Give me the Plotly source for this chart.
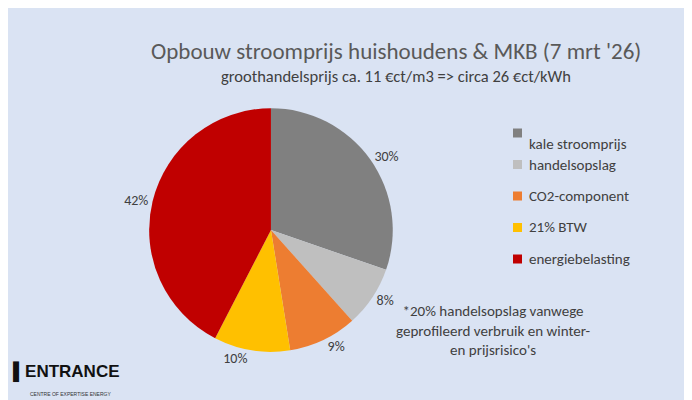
import plotly.graph_objects as go

labels = ["kale stroomprijs", "handelsopslag", "CO2-component", "21% BTW", "energiebelasting"]
values = [30, 8, 9, 10, 42]
colors = ["#808080", "#BFBFBF", "#ED7D31", "#FFC000", "#C00000"]
text_labels = ["30%", "8%", "9%", "10%", "42%"]

strip_x0 = [110, 182, 323, 465, 606]
strip_x1 = [162, 283, 424, 566, 692]
strip_colors = ["#DAE3F3", "#FFC000", "#2F4A7F", "#9E480E", "#666666"]

bg = "#DAE3F3"
fnt = "Calibri, Lato, sans-serif"

fig = go.Figure(go.Pie(
    labels=labels, values=values, sort=False, direction="clockwise", rotation=0,
    marker=dict(colors=colors, line=dict(width=0)),
    text=text_labels, textinfo="text", textposition="outside",
    textfont=dict(size=14, color="#404040", family=fnt),
    domain=dict(x=[0.204, 0.556], y=[0.14, 0.75]),
    showlegend=False,
))

shapes = [dict(type="rect", xref="paper", yref="paper", x0=0, x1=1, y0=0, y1=4 / 400,
               fillcolor="white", line=dict(width=0))]
for x0, x1, c in zip(strip_x0, strip_x1, strip_colors):
    shapes.append(dict(type="rect", xref="paper", yref="paper",
                       x0=x0 / 692, x1=x1 / 692, y0=0, y1=4 / 400,
                       fillcolor=c, line=dict(width=0)))

annotations = [
    dict(text="Opbouw stroomprijs huishoudens & MKB (7 mrt '26)", x=0.56, y=1 - 27 / 400,
         xref="paper", yref="paper", showarrow=False, font=dict(size=23, color="#595959", family=fnt)),
    dict(text="groothandelsprijs ca. 11 €ct/m3 => circa 26 €ct/kWh", x=0.56, y=1 - 56 / 400,
         xref="paper", yref="paper", showarrow=False, font=dict(size=16.5, color="#404040", family=fnt)),
    dict(text="*20% handelsopslag vanwege<br>geprofileerd verbruik en winter-<br>en prijsrisico's",
         x=585 / 692, y=1 - 353 / 400, xref="paper", yref="paper", showarrow=False, align="center",
         font=dict(size=15, color="#404040", family=fnt)),
    dict(text="<b>▌ENTRANCE</b>", x=3 / 692, y=1 - 377 / 400, xref="paper", yref="paper",
         showarrow=False, xanchor="left", font=dict(size=17, color="#111111", family="Liberation Sans")),
    dict(text="CENTRE OF EXPERTISE ENERGY", x=20 / 692, y=1 - 391 / 400, xref="paper", yref="paper",
         showarrow=False, xanchor="left", font=dict(size=5, color="#333333", family="Liberation Sans")),
]

# legend drawn by hand for the wider row spacing
for i, (lab, c) in enumerate(zip(labels, colors)):
    yc = 1 - (125 + 31.5 * i) / 400
    shapes.append(dict(type="rect", xref="paper", yref="paper",
                       x0=505 / 692, x1=514 / 692, y0=yc - 4.5 / 400, y1=yc + 4.5 / 400,
                       fillcolor=c, line=dict(width=0)))
    annotations.append(dict(text=lab, x=519 / 692, y=yc, xref="paper", yref="paper",
                            showarrow=False, xanchor="left",
                            font=dict(size=15, color="#404040", family=fnt)))

fig.update_layout(
    width=692, height=400, paper_bgcolor=bg, plot_bgcolor=bg,
    margin=dict(l=0, r=0, t=0, b=0),
    shapes=shapes, annotations=annotations,
)

fig.write_html("out.html")
